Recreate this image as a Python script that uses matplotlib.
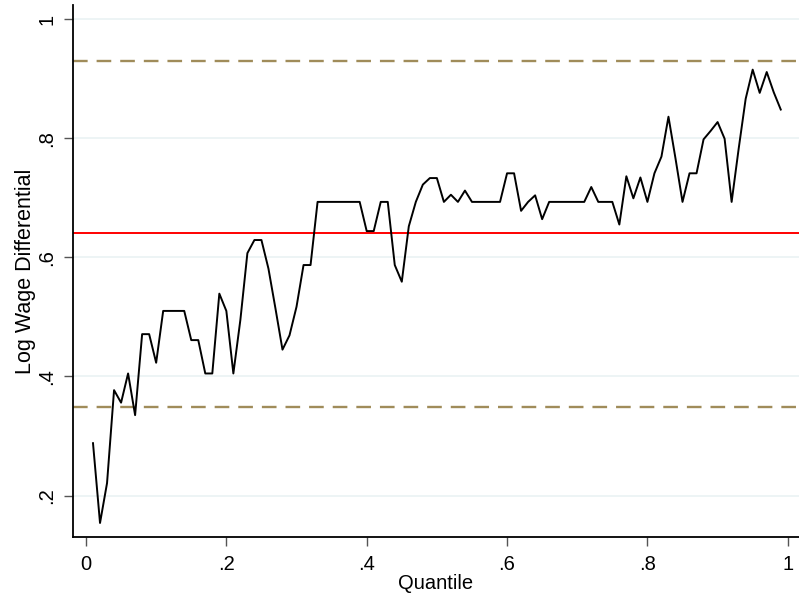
import matplotlib
matplotlib.use("Agg")
import matplotlib.pyplot as plt

quantile = [i / 100 for i in range(1, 100)]
wage_diff = [
    0.288, 0.154, 0.221, 0.377, 0.356, 0.405, 0.335, 0.471, 0.471, 0.423,
    0.510, 0.510, 0.510, 0.510, 0.461, 0.461, 0.405, 0.405, 0.539, 0.510,
    0.405, 0.495, 0.607, 0.629, 0.629, 0.581, 0.514, 0.445, 0.469, 0.517,
    0.587, 0.587, 0.693, 0.693, 0.693, 0.693, 0.693, 0.693, 0.693, 0.644,
    0.644, 0.693, 0.693, 0.587, 0.559, 0.652, 0.693, 0.722, 0.733, 0.733,
    0.693, 0.705, 0.693, 0.712, 0.693, 0.693, 0.693, 0.693, 0.693, 0.741,
    0.741, 0.678, 0.693, 0.704, 0.664, 0.693, 0.693, 0.693, 0.693, 0.693,
    0.693, 0.718, 0.693, 0.693, 0.693, 0.655, 0.736, 0.699, 0.734, 0.693,
    0.741, 0.769, 0.836, 0.766, 0.693, 0.741, 0.741, 0.798, 0.812, 0.827,
    0.799, 0.693, 0.782, 0.866, 0.915, 0.876, 0.911, 0.877, 0.848,
]
mean_line = 0.640
ci_lower = 0.349
ci_upper = 0.930
xticks = [0, 0.2, 0.4, 0.6, 0.8, 1.0]
xticklabels = ["0", ".2", ".4", ".6", ".8", "1"]
yticks = [0.2, 0.4, 0.6, 0.8, 1.0]
yticklabels = [".2", ".4", ".6", ".8", "1"]

plt.rcParams['font.family'] = ['Liberation Sans', 'DejaVu Sans']

fig = plt.figure(figsize=(7.99, 6.01), dpi=100)
W, H = 799, 601
left, right, top, bottom = 73, 799, 5, 537.3
ax = fig.add_axes([left / W, (H - bottom) / H, (right - left) / W, (bottom - top) / H])

ax.set_xlim(-0.0185, 1.016)
ax.set_ylim(0.130, 1.0235)

for yt in yticks:
    ax.axhline(yt, color="#eaf2f3", lw=1.2, zorder=0)

ax.axhline(ci_upper, color="#a08c5a", lw=1.7, ls=(0, (6.2, 3.8)), zorder=1)
ax.axhline(ci_lower, color="#a08c5a", lw=1.7, ls=(0, (6.2, 3.8)), zorder=1)
ax.axhline(mean_line, color="#ff0000", lw=1.4, zorder=2)
ax.plot(quantile, wage_diff, color="black", lw=1.4, zorder=3)

for s in ["top", "right"]:
    ax.spines[s].set_visible(False)
for s in ["left", "bottom"]:
    ax.spines[s].set_linewidth(1.3)

ax.set_xticks(xticks)
ax.set_xticklabels(xticklabels)
ax.set_yticks(yticks)
ax.set_yticklabels(yticklabels, rotation=90, va="center")
ax.tick_params(axis="both", direction="out", length=6.5, width=1.0, color="#555555",
               labelsize=14.5)
ax.tick_params(axis="x", pad=6.5)
ax.tick_params(axis="y", pad=5.5)
ax.set_xlabel("Quantile", fontsize=14.5, labelpad=0)
ax.set_ylabel("Log Wage Differential", fontsize=15.5, labelpad=1)

fig.savefig("out.png", dpi=100)
